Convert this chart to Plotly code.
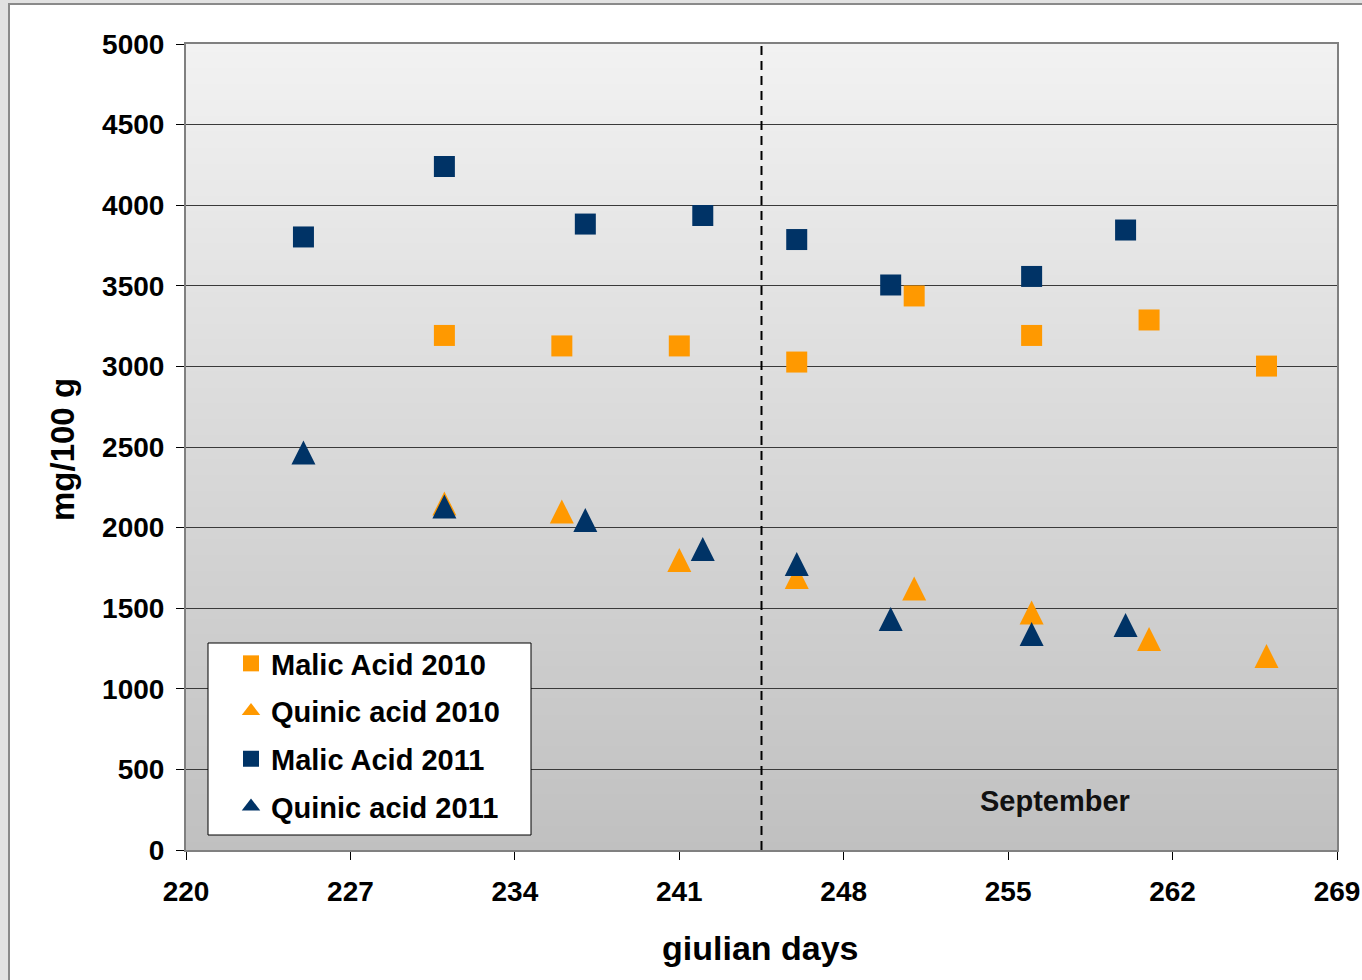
import plotly.graph_objects as go

# ---------------- data ----------------
days_2010 = [231, 236, 241, 246, 251, 256, 261, 266]
malic_2010 = [3192, 3127, 3127, 3027, 3437, 3192, 3288, 3002]
quinic_2010 = [2150, 2100, 1799, 1694, 1622, 1473, 1309, 1203]

days_2011 = [225, 231, 237, 242, 246, 250, 256, 260]
malic_2011 = [3803, 4240, 3883, 3936, 3787, 3505, 3558, 3846]
quinic_2011 = [2466, 2131, 2047, 1867, 1774, 1433, 1340, 1396]

x_ticks = [220, 227, 234, 241, 248, 255, 262, 269]
y_ticks = [0, 500, 1000, 1500, 2000, 2500, 3000, 3500, 4000, 4500, 5000]
september_start = 244.5
september_label = "September"
september_label_pos = (257, 304)

# ---------------- style ----------------
ORANGE = "#FF9900"
NAVY = "#003366"
FONT = "Liberation Sans"
W, H = 1362, 980
L, R, T, B = 186, 25, 44, 130
PW, PH = W - L - R, H - T - B
Y_MAX = 5000

SQ = 21
TRI = 24
# 'arrow-up' is an isosceles triangle whose apex sits on the point and whose
# base is one marker size below; shift so the triangle is centred on the value
tri_offset_px = TRI / 2
tri_shift = tri_offset_px * Y_MAX / PH

def px_x(p):
    return (p - L) / PW

def px_y(p):
    return (H - B - p) / PH

fig = go.Figure()

def add_series(x, y, name, color, kind, group):
    if kind == "square":
        fig.add_trace(go.Scatter(x=x, y=y, mode="markers", name=name, legendgroup=group,
                                 marker=dict(symbol="square", size=SQ, color=color,
                                             line=dict(width=0))))
    else:
        fig.add_trace(go.Scatter(x=x, y=y, mode="markers", name=name, legendgroup=group,
                                 yaxis="y2", showlegend=False,
                                 marker=dict(symbol="arrow-up", size=TRI, color=color,
                                             line=dict(width=0))))
        # legend entry
        fig.add_trace(go.Scatter(x=[None], y=[None], mode="markers", name=name,
                                 legendgroup=group,
                                 marker=dict(symbol="triangle-up", size=TRI, color=color,
                                             line=dict(width=0))))

add_series(days_2010, malic_2010, "Malic Acid 2010", ORANGE, "square", "a")
add_series(days_2010, quinic_2010, "Quinic acid 2010", ORANGE, "triangle", "b")
add_series(days_2011, malic_2011, "Malic Acid 2011", NAVY, "square", "c")
add_series(days_2011, quinic_2011, "Quinic acid 2011", NAVY, "triangle", "d")

shapes = []
# white panel with grey frame
shapes.append(dict(type="rect", xref="paper", yref="paper", layer="below",
                   x0=px_x(9), x1=px_x(1400), y0=px_y(1010), y1=px_y(4),
                   fillcolor="white", line=dict(color="#8a8a8a", width=2)))
# vertical gradient background of the plot area
n = 101
top_c, bot_c = 242, 192
for i in range(n):
    f0 = i / n
    f1 = (i + 1) / n
    c = round(bot_c + (top_c - bot_c) * (i + 0.5) / n)
    shapes.append(dict(type="rect", xref="paper", yref="paper", layer="below",
                       x0=0, x1=1, y0=f0, y1=f1 + 0.002,
                       fillcolor=f"rgb({c},{c},{c})", line=dict(width=0)))
# legend box
shapes.append(dict(type="rect", xref="paper", yref="paper", layer="above",
                   x0=px_x(208), x1=px_x(531), y0=px_y(835), y1=px_y(643),
                   fillcolor="white", line=dict(color="black", width=1)))
# September divider
shapes.append(dict(type="line", xref="x", yref="y", layer="above",
                   x0=september_start, x1=september_start, y0=0, y1=Y_MAX,
                   line=dict(color="black", width=2, dash="9px,6px")))

annotations = [
    dict(text="<b>giulian days</b>", xref="paper", yref="paper",
         x=px_x(760), y=px_y(948), xanchor="center", yanchor="middle",
         showarrow=False, font=dict(family=FONT, size=34, color="black")),
    dict(text="<b>mg/100 g</b>", xref="paper", yref="paper",
         x=px_x(62), y=px_y(450), xanchor="center", yanchor="middle", textangle=-90,
         showarrow=False, font=dict(family=FONT, size=33, color="black")),
    dict(text=f"<b>{september_label}</b>", xref="x", yref="y",
         x=september_label_pos[0], y=september_label_pos[1],
         xanchor="center", yanchor="middle",
         showarrow=False, font=dict(family=FONT, size=29, color="#111111")),
]

axis_common = dict(
    showline=True, linecolor="#808080", linewidth=2, mirror=True,
    ticks="outside", ticklen=8, tickwidth=1, tickcolor="black",
    zeroline=False,
    tickfont=dict(family=FONT, size=28, color="black", weight="bold"),
)

fig.update_layout(
    width=W, height=H,
    margin=dict(l=L, r=R, t=T, b=B, autoexpand=False),
    paper_bgcolor="#e2e2e2",
    plot_bgcolor="rgba(0,0,0,0)",
    font=dict(family=FONT, color="black"),
    xaxis=dict(range=[220, 269], tickvals=x_ticks, showgrid=False,
               ticklabelstandoff=7, **axis_common),
    yaxis=dict(range=[0, Y_MAX], tickvals=y_ticks, showgrid=True,
               gridcolor="#3a3a3a", gridwidth=1,
               ticklabelstandoff=6, **axis_common),
    yaxis2=dict(range=[-tri_shift, Y_MAX - tri_shift], overlaying="y", visible=False),
    shapes=shapes,
    annotations=annotations,
    showlegend=True,
    legend=dict(x=px_x(231), y=px_y(638), xanchor="left", yanchor="top",
                bgcolor="rgba(0,0,0,0)", borderwidth=0,
                tracegroupgap=7, traceorder="grouped",
                font=dict(family=FONT, size=29, color="black", weight="bold")),
)

fig.write_html("out.html",
               config={"displayModeBar": False},
               post_script="document.body.style.margin='0px';document.body.style.overflow='hidden';")
